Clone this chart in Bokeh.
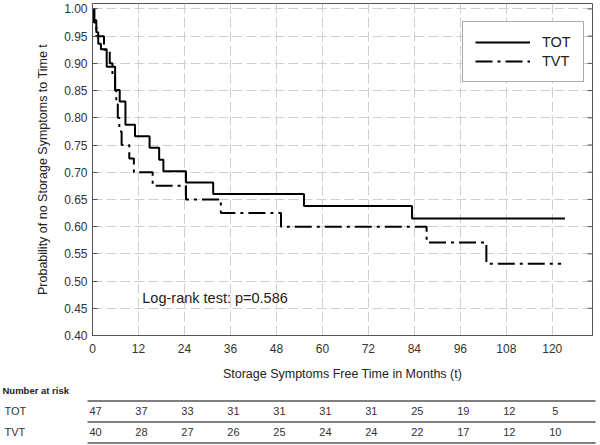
from bokeh.plotting import figure
from bokeh.models import (Range1d, FixedTicker, Legend, LegendItem,
                          Label, PrintfTickFormatter)
from bokeh.core.properties import value
from bokeh.embed import file_html
from bokeh.resources import INLINE

# ---------------- data ----------------
TOT_TIME = [0, 0.5, 1.0, 1.5, 2.2, 3.7, 5.9, 7.1, 8.6, 11.1, 14.9, 17.4, 18.5, 24.4, 31.5, 55.2, 83.4, 123.3]
TOT_SURV = [1.0, 0.979, 0.957, 0.936, 0.926, 0.894, 0.851, 0.830, 0.787, 0.766, 0.745, 0.723, 0.702, 0.681, 0.660, 0.638, 0.615, 0.615]

TVT_TIME = [0, 0.4, 1.0, 3.0, 4.5, 5.2, 5.9, 6.2, 6.6, 7.0, 7.6, 9.6, 10.8, 15.7, 24.4, 33.5, 49.2, 87.2, 102.8, 122.3]
TVT_SURV = [1.0, 0.975, 0.95, 0.925, 0.90, 0.875, 0.85, 0.825, 0.80, 0.775, 0.75, 0.725, 0.70, 0.675, 0.65, 0.625, 0.60, 0.571, 0.532, 0.532]

X_TICKS = [0, 12, 24, 36, 48, 60, 72, 84, 96, 108, 120]
Y_TICKS = [0.40, 0.45, 0.50, 0.55, 0.60, 0.65, 0.70, 0.75, 0.80, 0.85, 0.90, 0.95, 1.00]

GROUPS = ["TOT", "TVT"]
AT_RISK_TOT = [47, 37, 33, 31, 31, 31, 31, 25, 19, 12, 5]
AT_RISK_TVT = [40, 28, 27, 26, 25, 24, 24, 22, 17, 12, 10]

PVALUE_TEXT = "Log-rank test: p=0.586"

# ---------------- layout constants ----------------
FONT = "Liberation Sans"
W = 600
H_MAIN = 383
H_TAB = 62
LEFT = 92
RIGHT = 8
X_MAX = 130.5
FRAME_W = W - LEFT - RIGHT
scale = FRAME_W / X_MAX

p = figure(width=W, height=H_MAIN, x_range=Range1d(0, X_MAX), y_range=Range1d(0.40, 1.01),
           output_backend="svg", toolbar_location=None,
           min_border_left=LEFT, min_border_right=RIGHT, min_border_top=3, min_border_bottom=45)
p.background_fill_color = "white"
p.border_fill_color = "white"
p.outline_line_color = "#555555"
p.outline_line_width = 1

p.xaxis.ticker = FixedTicker(ticks=X_TICKS)
p.yaxis.ticker = FixedTicker(ticks=Y_TICKS)
p.yaxis.formatter = PrintfTickFormatter(format="%.2f")
for ax in (p.xaxis[0], p.yaxis[0]):
    ax.axis_line_color = "#555555"
    ax.major_tick_out = 0
    ax.major_tick_in = 0
    ax.minor_tick_out = 0
    ax.minor_tick_in = 0
    ax.major_label_text_font = FONT
    ax.major_label_text_font_size = "12px"
    ax.major_label_text_color = "#333333"
    ax.axis_label_text_font = FONT
    ax.axis_label_text_font_style = "normal"
    ax.axis_label_text_color = "#222222"
p.yaxis.major_tick_in = 5
p.yaxis.major_tick_line_color = "#555555"
p.yaxis.major_label_standoff = 5
p.yaxis.axis_label = "Probability of no Storage Symptoms to Time t"
p.yaxis.axis_label_text_font_size = "12.5px"
p.yaxis.axis_label_standoff = 11
p.xaxis.major_label_standoff = 8
p.xaxis.axis_label = "Storage Symptoms Free Time in Months (t)"
p.xaxis.axis_label_text_font_size = "12.5px"
p.xaxis.axis_label_standoff = 11

# inward ticks on the right frame edge
p.segment(x0=[X_MAX - 5 / scale] * len(Y_TICKS), x1=[X_MAX] * len(Y_TICKS), y0=Y_TICKS, y1=Y_TICKS,
          line_color="#555555", line_width=1)

p.xgrid.ticker = FixedTicker(ticks=X_TICKS)
p.ygrid.ticker = FixedTicker(ticks=Y_TICKS)
for g in (p.xgrid[0], p.ygrid[0]):
    g.grid_line_color = "#cfcfcf"
    g.grid_line_dash = "10 4"
    g.grid_line_width = 1

r_tot = p.step(TOT_TIME, TOT_SURV, mode="after", line_color="black", line_width=2)
r_tvt = p.step(TVT_TIME, TVT_SURV, mode="after", line_color="black", line_width=2,
               line_dash="17 5 3 5")

legend = Legend(items=[LegendItem(label=GROUPS[0], renderers=[r_tot]),
                       LegendItem(label=GROUPS[1], renderers=[r_tvt])],
                location=(370, 253), glyph_width=55, glyph_height=16, label_height=16,
                label_standoff=12, padding=12, spacing=3, margin=0,
                border_line_color="#555555", border_line_width=1,
                background_fill_color="white", background_fill_alpha=1,
                label_text_font=FONT, label_text_font_size="14.5px", label_text_color="#222222")
p.add_layout(legend, "center")

p.add_layout(Label(x=13.0, y=0.469, text=PVALUE_TEXT, text_baseline="middle",
                   text_font=FONT, text_font_size="14.5px", text_color="#222222"))

# ---------------- number at risk table (separate root, full-width frame) ----------------
tx0 = -LEFT / scale
tx1 = (W - LEFT) / scale
tp = figure(width=W, height=H_TAB, x_range=Range1d(tx0, tx1), y_range=Range1d(2.619, -0.333),
            output_backend="svg", toolbar_location=None, x_axis_type=None, y_axis_type=None,
            min_border=0, outline_line_color=None)
tp.grid.visible = False
tp.background_fill_color = "white"
tp.border_fill_color = "white"

rows = [0.5, 1.5, 2.5]
tp.segment(x0=[-1.3] * 3, x1=[X_MAX + 0.8] * 3, y0=rows, y1=rows, line_color="#555555", line_width=1.3)

xs = X_TICKS + X_TICKS
ys = [1] * len(X_TICKS) + [2] * len(X_TICKS)
txt = [str(v) for v in AT_RISK_TOT + AT_RISK_TVT]
tp.text(x=xs, y=ys, text=txt, text_align="center", text_baseline="middle", x_offset=3,
        text_font=value(FONT), text_font_size="11px", text_color="#333333")
tp.text(x=[tx0, tx0], y=[1, 2], text=GROUPS, text_align="left", text_baseline="middle", x_offset=4,
        text_font=value(FONT), text_font_size="11px", text_color="#333333")
tp.text(x=[tx0], y=[0], text=["Number at risk"], text_align="left", text_baseline="middle", x_offset=2,
        text_font=value(FONT), text_font_size="9.5px", text_font_style="bold", text_color="#222222")

open("out.html", "w").write(file_html([p, tp], INLINE))
